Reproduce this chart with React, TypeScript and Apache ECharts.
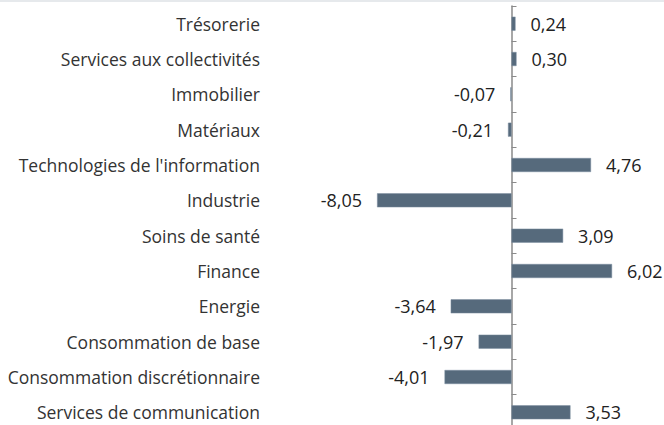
import React, { useEffect, useRef } from "react";
import * as echarts from "echarts";

const categories = [
  "Trésorerie",
  "Services aux collectivités",
  "Immobilier",
  "Matériaux",
  "Technologies de l'information",
  "Industrie",
  "Soins de santé",
  "Finance",
  "Energie",
  "Consommation de base",
  "Consommation discrétionnaire",
  "Services de communication",
];
const values = [0.24, 0.3, -0.07, -0.21, 4.76, -8.05, 3.09, 6.02, -3.64, -1.97, -4.01, 3.53];

const FONT = "'Open Sans', sans-serif";
const X_MIN = -14.58;
const X_MAX = 9.13;
const GRID_LEFT = 268;
const ZERO_X = GRID_LEFT + (0 - X_MIN) * ((664 - GRID_LEFT) / (X_MAX - X_MIN));

export default function App() {
  const ref = useRef<HTMLDivElement>(null);
  useEffect(() => {
    if (!ref.current) return;
    const chart = echarts.init(ref.current, undefined, { renderer: "svg" });
    chart.setOption({
      animation: false,
      graphic: [
        { type: "rect", left: 0, top: 0, shape: { width: 664, height: 2 }, style: { fill: "#e6e9ec" } },
      ],
      grid: [
        { left: GRID_LEFT, right: 0, top: 6, height: 424, containLabel: false },
        { left: ZERO_X, right: 0, top: 6, height: 424, containLabel: false },
      ],
      xAxis: [
        { type: "value", gridIndex: 0, min: X_MIN, max: X_MAX, show: false },
        { type: "value", gridIndex: 1, min: 0, max: 1, show: false },
      ],
      yAxis: [
        {
          type: "category",
          gridIndex: 0,
          data: categories,
          inverse: true,
          axisLine: { show: false },
          axisTick: { show: false },
          axisLabel: {
            color: "#333",
            fontFamily: FONT,
            fontSize: 17.5,
            lineHeight: 17,
            margin: 8,
          },
        },
        {
          type: "category",
          gridIndex: 1,
          data: categories,
          inverse: true,
          axisLine: { show: true, lineStyle: { color: "#8a8a8a", width: 1.5 } },
          axisTick: { show: true, inside: true, length: 5, lineStyle: { color: "#8a8a8a" } },
          axisLabel: { show: false },
        },
      ],
      series: [
        {
          type: "bar",
          xAxisIndex: 0,
          yAxisIndex: 0,
          barWidth: 14,
          itemStyle: { color: "#566a7c", borderColor: "#7d8fa0", borderWidth: 0.5 },
          data: values.map((v) => ({
            value: v,
            label: {
              show: true,
              position: v < 0 ? "left" : "right",
              distance: 15,
              color: "#222",
              fontFamily: FONT,
              fontSize: 18,
              lineHeight: 17,
              formatter: () => v.toFixed(2).replace(".", ","),
            },
          })),
        },
      ],
    });
    return () => chart.dispose();
  }, []);
  return (
    <div
      ref={ref}
      style={{ position: "fixed", left: 0, top: 0, width: 664, height: 440, background: "#fff" }}
    />
  );
}
